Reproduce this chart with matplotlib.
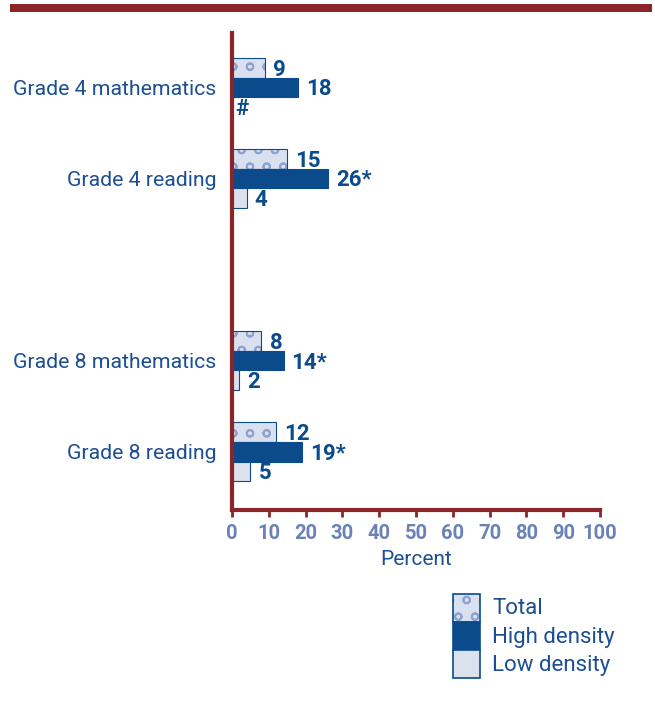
import matplotlib
matplotlib.use("Agg")
import matplotlib.pyplot as plt
from matplotlib.patches import Rectangle
import numpy as np

categories = ["Grade 4 mathematics", "Grade 4 reading", "Grade 8 mathematics", "Grade 8 reading"]
total = [9, 15, 8, 12]
high_density = [18, 26, 14, 19]
low_density = [0, 4, 2, 5]
total_labels = ["9", "15", "8", "12"]
high_labels = ["18", "26*", "14*", "19*"]
low_labels = ["#", "4", "2", "5"]
series_names = ["Total", "High density", "Low density"]
xticks = list(range(0, 101, 10))

RED = "#8B2529"
DARK = "#0B4A8B"
TICK = "#6A82B5"
TEXT = "#1C4E92"
LIGHT = "#DCE1EE"
TOTAL_FILL = "#D9E0F0"
HATCH_COLOR = "#8FA3CF"
plt.rcParams["hatch.linewidth"] = 1.4

fig = plt.figure(figsize=(6.55, 7.06), dpi=100)
fig.add_artist(Rectangle((10 / 655, 1 - 12 / 706), 642 / 655, 8 / 706,
                         transform=fig.transFigure, color=RED, lw=0))

ax = fig.add_axes([232 / 655, 1 - 510 / 706, 368 / 655, 477 / 706])
pos = np.array([0, 1, 3, 4], dtype=float)
h = 0.215
TOTAL_HATCH = "o"
# textured fill first, then the dark outline on top
ax.barh(pos - h, total, height=h, color=TOTAL_FILL, edgecolor=HATCH_COLOR, lw=0, hatch=TOTAL_HATCH)
ax.barh(pos - h, total, height=h, fill=False, edgecolor=DARK, lw=0.8)
ax.barh(pos, high_density, height=h, color=DARK, edgecolor=DARK, lw=0.8)
ax.barh(pos + h, low_density, height=h, color=LIGHT, edgecolor=DARK, lw=0.8)

for y, vals, labs in ((pos - h, total, total_labels), (pos, high_density, high_labels),
                      (pos + h, low_density, low_labels)):
    for yi, v, lab in zip(y, vals, labs):
        off = 2.2 if v > 0 else 1.0
        ax.text(v + off, yi + 0.02, lab, va="center", ha="left", color=DARK,
                fontsize=16, fontweight="bold", family="Roboto")

ax.set_ylim(4.64, -0.6)
ax.set_xlim(0, 100)
ax.set_yticks(pos)
ax.set_yticklabels(categories, fontsize=15.3, color=TEXT, family="Roboto")
ax.tick_params(axis="y", length=0, pad=11)
ax.set_xticks(xticks)
ax.set_xticklabels([str(t) for t in xticks], fontsize=14.5, fontweight="bold",
                   color=TICK, family="Roboto")
ax.tick_params(axis="x", length=5, width=2, color=RED, pad=5)
ax.set_xlabel("Percent", fontsize=15, color=TEXT, family="Roboto", labelpad=5)
for s in ("top", "right"):
    ax.spines[s].set_visible(False)
for s in ("left", "bottom"):
    ax.spines[s].set_color(RED)
    ax.spines[s].set_linewidth(3)
    ax.spines[s].set_capstyle("projecting")

# legend drawn as a stacked key
lax = fig.add_axes([0, 0, 1, 1], facecolor="none")
lax.set_xlim(0, 655)
lax.set_ylim(706, 0)
lax.axis("off")
lax.add_patch(Rectangle((453, 594), 27, 28, facecolor=TOTAL_FILL, edgecolor=HATCH_COLOR,
                        lw=0, hatch=TOTAL_HATCH))
styles = [dict(fill=False), dict(facecolor=DARK), dict(facecolor=LIGHT)]
for i, (name, st) in enumerate(zip(series_names, styles)):
    y0 = 594 + i * 28
    lax.add_patch(Rectangle((453, y0), 27, 28, edgecolor=DARK, lw=1.2, **st))
    lax.text(492, y0 + 15, name, va="center", ha="left", fontsize=16,
             color=TEXT, family="Roboto")

fig.savefig("out.png", dpi=100)
